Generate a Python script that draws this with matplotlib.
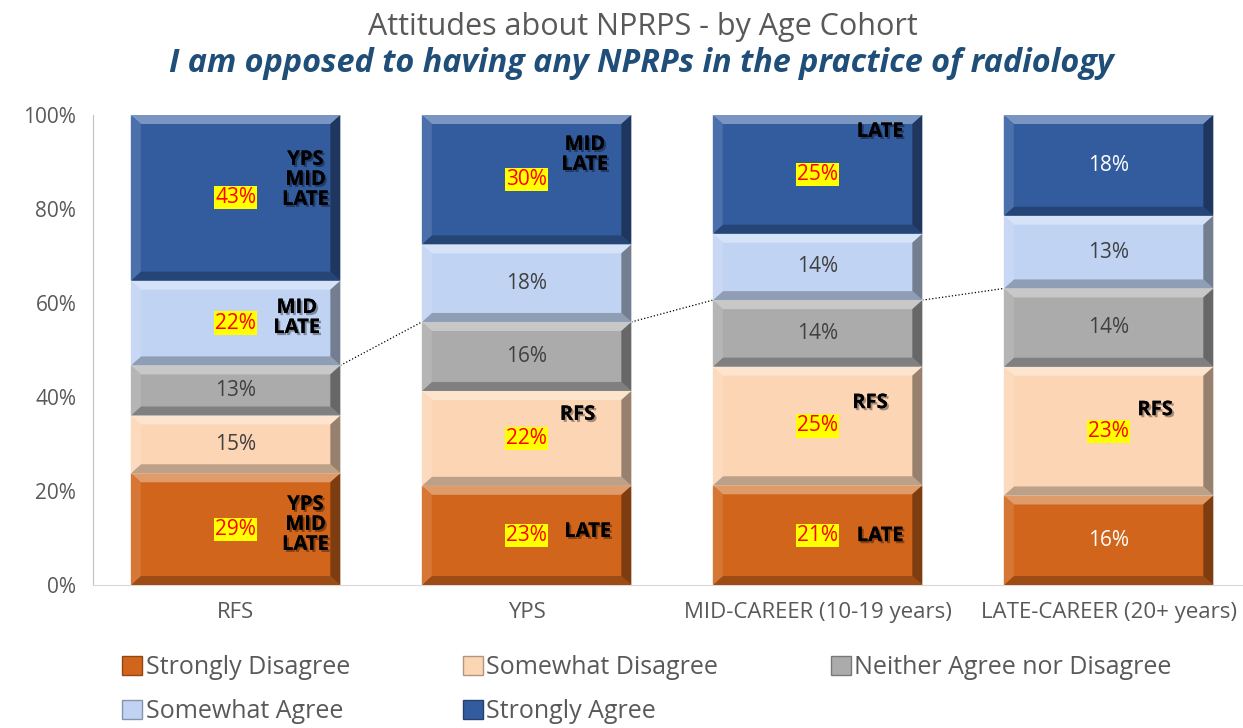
import numpy as np
import matplotlib
matplotlib.use("Agg")
import matplotlib.pyplot as plt
from matplotlib.patches import Polygon, Patch
from matplotlib import patheffects
from matplotlib.colors import to_rgb

plt.rcParams['font.family'] = ['Open Sans', 'DejaVu Sans']

# Data: counts per answer for each cohort (shown stacked to 100%)
cohorts = ["RFS", "YPS", "MID-CAREER (10-19 years)", "LATE-CAREER (20+ years)"]
series = ["Strongly Disagree", "Somewhat Disagree", "Neither Agree nor Disagree",
          "Somewhat Agree", "Strongly Agree"]
strongly_disagree = [29, 23, 21, 16]
somewhat_disagree = [15, 22, 25, 23]
neither = [13, 16, 14, 14]
somewhat_agree = [22, 18, 14, 13]
strongly_agree = [43, 30, 25, 18]
colors = ["#D0651B", "#FCD5B5", "#ABABAB", "#C0D3F2", "#335C9F"]

# which value labels are highlighted (red on yellow)
highlight = [[True, True, True, False],
             [False, True, True, True],
             [False, False, False, False],
             [True, False, False, False],
             [True, True, True, False]]

# significance notes: (cohort, y in %, text, x offset)
notes = [(0, 86.2, "YPS\nMID\nLATE", 0.24), (0, 56.8, "MID\nLATE", 0.21),
         (0, 12.8, "YPS\nMID\nLATE", 0.24),
         (1, 91.5, "MID\nLATE", 0.2), (1, 36.2, "RFS", 0.175), (1, 11.3, "LATE", 0.21),
         (2, 96.4, "LATE", 0.215), (2, 38.7, "RFS", 0.18), (2, 10.4, "LATE", 0.215),
         (3, 37.2, "RFS", 0.16)]

counts = np.array([strongly_disagree, somewhat_disagree, neither, somewhat_agree, strongly_agree], dtype=float)
pct = counts / counts.sum(axis=0) * 100

fig = plt.figure(figsize=(12.43, 7.28), dpi=100)
ax = fig.add_axes([93 / 1243, 1 - 585 / 728, 1 - 93 / 1243, 470 / 728])
ax.set_xlim(-0.49, 3.462)
ax.set_ylim(0, 100)

x = np.arange(len(cohorts))
width = 0.72


def mix(c, other, f):
    c = np.array(to_rgb(c))
    return tuple(c * (1 - f) + np.array(other) * f)


# bevel size in data units (about 10 px)
px_x = 1150 / (3.462 + 0.49)
px_y = 470 / 100
bx = 10 / px_x
by = 9 / px_y

bottom = np.zeros(len(cohorts))
for i in range(len(series)):
    ax.bar(x, pct[i], width, bottom=bottom, color=colors[i], edgecolor="white", linewidth=1, zorder=2)
    for j in range(len(cohorts)):
        x0, x1 = x[j] - width / 2, x[j] + width / 2
        y0, y1 = bottom[j], bottom[j] + pct[i][j]
        b = min(by, pct[i][j] / 3)
        faces = [
            ([(x0, y1), (x1, y1), (x1 - bx, y1 - b), (x0 + bx, y1 - b)], mix(colors[i], (1, 1, 1), 0.35)),
            ([(x0, y0), (x1, y0), (x1 - bx, y0 + b), (x0 + bx, y0 + b)], mix(colors[i], (0, 0, 0), 0.25)),
            ([(x0, y0), (x0 + bx, y0 + b), (x0 + bx, y1 - b), (x0, y1)], mix(colors[i], (1, 1, 1), 0.12)),
            ([(x1, y0), (x1 - bx, y0 + b), (x1 - bx, y1 - b), (x1, y1)], mix(colors[i], (0, 0, 0), 0.4)),
        ]
        for pts, fc in faces:
            ax.add_patch(Polygon(pts, closed=True, facecolor=fc, edgecolor="none", zorder=3))
        label = "%d%%" % counts[i][j]
        yc = y0 + pct[i][j] / 2
        if highlight[i][j]:
            ax.text(x[j], yc, label, ha="center", va="center", fontsize=15, color="red", zorder=5,
                    bbox=dict(boxstyle="square,pad=0.05", facecolor="yellow", edgecolor="none"))
        else:
            tc = "white" if i in (0, 4) else "#404040"
            ax.text(x[j], yc, label, ha="center", va="center", fontsize=15, color=tc, zorder=5)
    bottom += pct[i]

# series lines joining the top of the "Neither" segments
top_neither = pct[:3].sum(axis=0)
for j in range(len(cohorts) - 1):
    ax.plot([x[j] + width / 2, x[j + 1] - width / 2], [top_neither[j], top_neither[j + 1]],
            color="black", linestyle=":", linewidth=0.9, zorder=1)

for c, yv, txt, off in notes:
    ax.text(x[c] + off, yv, txt, ha="center", va="center", fontsize=14.5, fontweight="bold",
            color="black", linespacing=1.0, zorder=6,
            path_effects=[patheffects.withSimplePatchShadow(offset=(1.5, -1.5), alpha=0.35), patheffects.Normal()])

ax.set_xticks(x)
ax.set_xticklabels(cohorts, fontsize=16, color="#595959")
ax.set_yticks(np.arange(0, 101, 20))
ax.set_yticklabels(["%d%%" % v for v in range(0, 101, 20)], fontsize=15, color="#595959")
ax.tick_params(length=0, pad=12)
for s in ["top", "right"]:
    ax.spines[s].set_visible(False)
ax.spines["left"].set_color("#BFBFBF")
ax.spines["bottom"].set_color("#D9D9D9")

fig.text(0.517, 1 - 27 / 728, "Attitudes about NPRPS - by Age Cohort", ha="center", va="center",
         fontsize=22, color="#595959")
fig.text(0.516, 1 - 64 / 728, "I am opposed to having any NPRPs in the practice of radiology",
         ha="center", va="center", fontsize=23.3, color="#1F4E79", fontweight="bold", style="italic")

handles = [Patch(facecolor=colors[i], edgecolor=mix(colors[i], (0, 0, 0), 0.3)) for i in range(5)]
order = [0, 3, 1, 4, 2]
fig.legend([handles[k] for k in order], [series[k] for k in order], ncol=3,
           loc="upper left", bbox_to_anchor=(112 / 1243, 1 - 645 / 728), frameon=False,
           fontsize=18, labelcolor="#595959", handlelength=0.8, handleheight=0.8,
           handletextpad=0.15, columnspacing=4.5, labelspacing=0.75, borderaxespad=0)

fig.savefig("out.png", dpi=100)
